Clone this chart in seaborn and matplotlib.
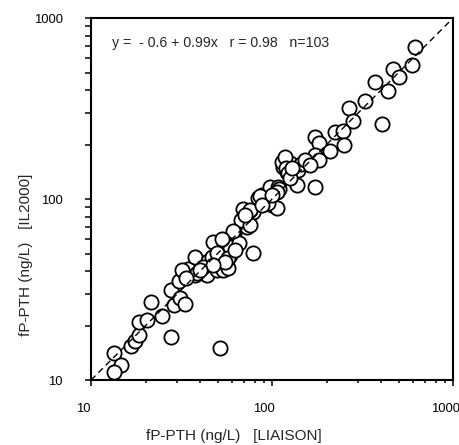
"""
plot.py - method comparison scatter, fP-PTH LIAISON vs IL2000 (log-log)
"""
import matplotlib
matplotlib.use("Agg")
import matplotlib.pyplot as plt
import matplotlib.transforms as mtransforms
from matplotlib.ticker import LogLocator, NullFormatter, FixedFormatter, FixedLocator
import pandas as pd
import seaborn as sns

# fP-PTH values (ng/L)
liaison = [
    13.4, 14.6, 13.4, 16.6, 17.5, 18.4, 18.4, 20.4, 21.5, 24.7,
    27.7, 27.7, 28.7, 31.0, 33.0, 30.6, 32.6, 34.4, 37.6, 37.6,
    41.6, 43.8, 44.3, 46.6, 47.2, 49.7, 51.6, 51.6, 53.6, 53.6,
    57.1, 58.6, 58.6, 61.7, 65.7, 69.2, 68.3, 72.8, 73.6, 78.5,
    78.5, 83.7, 88.1, 91.5, 97.5, 100.0, 106.6, 107.9, 137.4, 172.9,
    139.2, 121.1, 115.1, 113.6, 125.8, 144.6, 109.3, 106.6, 95.1, 75.5,
    67.4, 75.5, 60.9, 52.9, 49.7, 57.1, 41.6, 31.8, 38.5,
    616.6, 593.6, 466.4, 503.2, 370.7, 437.5, 326.6, 266.4, 280.3, 405.5,
    222.8, 246.6, 172.9, 181.9, 250.0, 209.2, 172.9, 181.9, 118.0, 119.4,
    122.5, 85.9,
    125.8, 152.0, 88.1, 70.9, 55.0, 47.2, 40.0, 33.5, 62.5, 100.0,
    162.2, 129.0,
]
il2000 = [
    14.1, 12.1, 11.1, 15.4, 16.4, 17.7, 20.9, 21.5, 27.0, 22.6,
    17.3, 31.4, 25.9, 28.4, 26.3, 35.2, 39.5, 41.0, 38.0, 47.8,
    39.0, 38.0, 45.5, 47.8, 57.9, 40.5, 15.0, 47.2, 40.5, 59.4,
    41.6, 49.0, 54.3, 64.9, 57.1, 88.1, 76.6, 70.0, 79.6, 84.8,
    50.3, 101.3, 105.2, 96.2, 116.4, 92.7, 89.2, 116.4, 119.4, 116.4,
    144.6, 140.9, 150.3, 160.2, 158.2, 156.1, 113.6, 109.3, 95.1, 87.0,
    76.6, 71.8, 66.5, 60.1, 50.3, 47.2, 42.1, 40.5, 39.0,
    691.8, 549.5, 522.4, 472.1, 443.1, 395.3, 347.9, 318.4, 269.9, 259.5,
    234.4, 237.5, 220.1, 203.9, 198.6, 184.1, 175.0, 164.3, 170.6, 148.3,
    139.2, 103.9,
    130.6, 164.3, 92.7, 81.6, 44.9, 43.2, 40.5, 36.6, 52.2, 105.2,
    154.2, 148.3,
]

axis_limits = [10, 1000]
axis_ticks = [10, 100, 1000]
tick_labels = ["10", "100", "1000"]
fit_text = "y =  - 0.6 + 0.99x   r = 0.98   n=103"
x_label = "fP-PTH (ng/L)   [LIAISON]"
y_label = "fP-PTH (ng/L)   [IL2000]"

df = pd.DataFrame({"liaison": liaison, "il2000": il2000})

sns.set_style("ticks")
plt.rcParams["font.family"] = ["Liberation Sans", "DejaVu Sans"]
plt.rcParams["font.size"] = 9.4

fig = plt.figure(figsize=(4.6, 4.45), dpi=100)
ax = fig.add_axes([0.198, 0.146, 0.787, 0.8135])

sns.scatterplot(data=df, x="liaison", y="il2000", ax=ax,
                marker="o", s=105, facecolor="white", edgecolor="black",
                linewidth=1.3, zorder=2, legend=False)

# line of identity
ax.plot(axis_limits, axis_limits, color="black", linestyle=(0, (4.5, 3)),
        linewidth=1.0, zorder=3)

ax.set_xscale("log")
ax.set_yscale("log")
ax.set_xlim(axis_limits)
ax.set_ylim(axis_limits)

for axis in (ax.xaxis, ax.yaxis):
    axis.set_major_locator(FixedLocator(axis_ticks))
    axis.set_major_formatter(FixedFormatter(tick_labels))
    axis.set_minor_locator(LogLocator(base=10, subs=range(2, 10)))
    axis.set_minor_formatter(NullFormatter())

for side in ax.spines.values():
    side.set_linewidth(1.5)
    side.set_color("black")

ax.tick_params(axis="both", which="both", direction="out", color="black",
               width=1.1, labelsize=9.4, labelcolor="black")
ax.tick_params(axis="x", which="major", length=4.5, pad=12)
ax.tick_params(axis="x", which="minor", length=2.5)
ax.tick_params(axis="y", which="major", length=4.5, pad=16)
ax.tick_params(axis="y", which="minor", length=4.0)

# excel-like: x tick labels sit a bit to the left of their ticks
shift = mtransforms.ScaledTranslation(-8 / 100, 0, fig.dpi_scale_trans)
for lbl in ax.get_xticklabels():
    lbl.set_transform(lbl.get_transform() + shift)

ax.text(0.058, 0.931, fit_text, transform=ax.transAxes,
        ha="left", va="center", fontsize=10.2)

ax.set_xlabel(x_label, fontsize=11)
ax.set_ylabel(y_label, fontsize=11)
ax.xaxis.set_label_coords(0.395, -0.135)
ax.yaxis.set_label_coords(-0.16, 0.345)

fig.savefig("out.png", dpi=100)
plt.close(fig)
